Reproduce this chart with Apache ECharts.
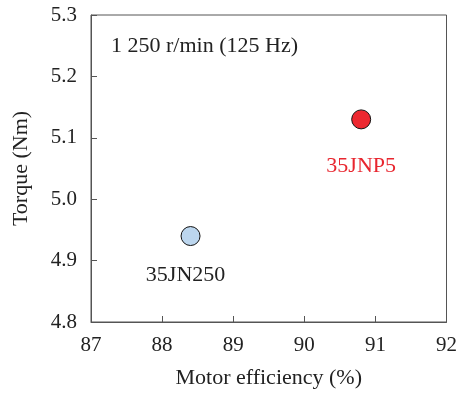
<!DOCTYPE html>
<html>
<head>
<meta charset="utf-8">
<script src="https://cdn.jsdelivr.net/npm/echarts@6/dist/echarts.min.js"></script>
<style>
  html, body { margin: 0; padding: 0; background: #fff; }
  #chart { width: 460px; height: 394px; }
</style>
</head>
<body>
<div id="chart"></div>
<script>
const motors = ['35JN250', '35JNP5']
const efficiency = [88.4, 90.8]
const torque = [4.94, 5.13]
const fills = ['#bcd6ee', '#ec2830']
const labelColors = ['#222', '#e8262f']
const labelOffsets = [[-5, 0], [0, 0]]
const labelDistances = [18, 26]

const font = '"Liberation Serif", "DejaVu Serif", serif'
const chart = echarts.init(document.getElementById('chart'))

const series = motors.map((name, i) => ({
  name,
  type: 'scatter',
  symbolSize: 19,
  data: [[efficiency[i], torque[i]]],
  itemStyle: { color: fills[i], borderColor: '#111', borderWidth: 1, opacity: 1 },
  label: {
    show: true,
    position: 'bottom',
    distance: labelDistances[i],
    offset: labelOffsets[i],
    formatter: name,
    color: labelColors[i],
    fontFamily: font,
    fontSize: 22
  }
}))

chart.setOption({
  animation: false,
  title: {
    text: '1 250 r/min (125 Hz)',
    left: 106,
    top: 30,
    textStyle: { fontFamily: font, fontSize: 22, fontWeight: 'normal', color: '#222' }
  },
  grid: {
    left: 91, right: 10, top: 15, bottom: 71,
    show: true, borderColor: '#555', borderWidth: 1
  },
  xAxis: {
    type: 'value',
    min: 87, max: 92, interval: 1,
    name: 'Motor efficiency (%)',
    nameLocation: 'middle',
    nameGap: 45,
    nameTextStyle: { fontFamily: font, fontSize: 22, color: '#222' },
    axisLine: { lineStyle: { color: '#555' } },
    axisTick: { inside: true, length: 6, lineStyle: { color: '#555' } },
    axisLabel: { fontFamily: font, fontSize: 21, color: '#222', margin: 13 },
    splitLine: { show: false }
  },
  yAxis: {
    type: 'value',
    min: 4.8, max: 5.3, interval: 0.1,
    name: 'Torque (Nm)',
    nameLocation: 'middle',
    nameGap: 59,
    nameRotate: 90,
    nameTextStyle: { fontFamily: font, fontSize: 22, color: '#222' },
    axisLine: { show: true, lineStyle: { color: '#555' } },
    axisTick: { show: true, inside: true, length: 6, lineStyle: { color: '#555' } },
    axisLabel: { fontFamily: font, fontSize: 21, color: '#222', margin: 14, formatter: v => v.toFixed(1) },
    splitLine: { show: false }
  },
  series
})
</script>
</body>
</html>
